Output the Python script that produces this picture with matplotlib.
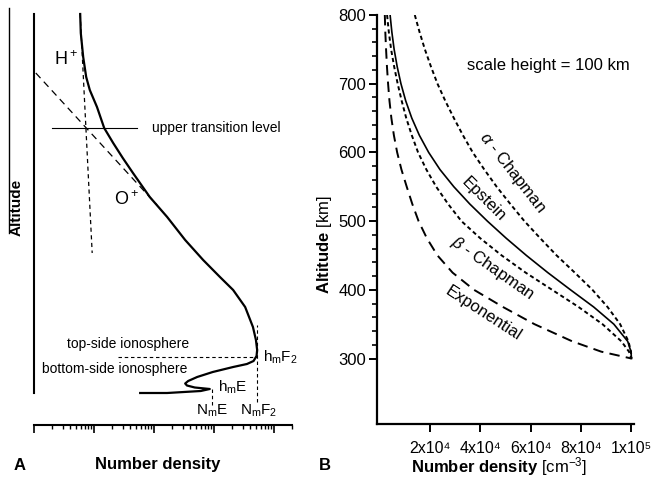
import numpy as np
import matplotlib
matplotlib.use("Agg")
import matplotlib.pyplot as plt
from matplotlib.lines import Line2D

plt.rcParams['font.family'] = ['Liberation Sans', 'DejaVu Sans']
plt.rcParams['mathtext.fontset'] = 'custom'
plt.rcParams['mathtext.rm'] = 'Liberation Sans'
plt.rcParams['mathtext.it'] = 'Liberation Sans:italic'
plt.rcParams['mathtext.bf'] = 'Liberation Sans:bold'
plt.rcParams['lines.scale_dashes'] = False

# ---- panel A : schematic profile (log10 density, relative altitude) ----
prof_log = [0.77, 0.78, 0.82, 0.87, 0.93, 1.05, 1.17, 1.32, 1.48, 1.65, 1.93, 2.22,
            2.52, 2.82, 3.10, 3.32, 3.52, 3.65, 3.70, 3.72, 3.71, 3.66, 3.55, 3.32,
            2.98, 2.72, 2.57, 2.52, 2.55, 2.68, 2.93, 2.78, 2.22, 1.77]
prof_alt = [822, 784, 736, 696, 670, 636, 594, 564, 534, 504, 456, 416,
            370, 330, 296, 270, 236, 196, 170, 150, 138, 128, 122, 116,
            106, 96, 88, 83, 79, 75, 72, 68, 64, 64]
hplus_log = [0.77, 0.97]
hplus_alt = [822, 344]
oplus_log = [0.03, 2.05]
oplus_alt = [704, 440]
utl_log = [0.30, 1.72]
utl_alt = 594
hmF2_alt = 136
NmF2_log = 3.72
NmE_log = 2.97
hmE_alt = 73

# ---- panel B : model profiles, scale height 100 km ----
alt_B = [800, 775, 750, 725, 700, 675, 650, 625, 600, 575, 550, 525, 500,
         475, 450, 425, 400, 375, 350, 325, 310, 300]
ne_exp = [2100, 2300, 2600, 2950, 3400, 3950, 4700, 5700, 7000, 8700, 10800, 13000,
          15500, 18800, 23000, 29000, 37500, 49000, 61500, 76500, 88000, 100000]
ne_beta = [3000, 3700, 4600, 5800, 7200, 8800, 10600, 12800, 15300, 18600, 22500,
           27200, 32500, 40000, 48500, 58000, 68500, 79000, 88500, 96000, 99000, 100000]
ne_eps = [4200, 4900, 5800, 7000, 8500, 10400, 12800, 15800, 19500, 24000, 29500,
          35800, 42800, 50300, 58300, 66800, 75800, 85000, 93000, 98500, 99800, 100000]
ne_alpha = [14000, 15900, 18000, 20400, 23000, 26100, 29500, 33100, 37000, 41600,
            46500, 51900, 57500, 63800, 70300, 77500, 84500, 90500, 95500, 98800,
            99800, 100000]
xticks_B = [2e4, 4e4, 6e4, 8e4, 1e5]
xticklabels_B = ['2x10\u2074', '4x10\u2074', '6x10\u2074', '8x10\u2074', '1x10\u2075']

W, H = 654, 479
fig = plt.figure(figsize=(W / 100, H / 100), dpi=100)

def fx(px):
    return px / W

def fy(py):
    return 1 - py / H

# panel A
axA = fig.add_axes([fx(34), fy(425), fx(292 - 34), (425 - 8) / H])
axA.set_xscale('log')
axA.set_xlim(1, 2.0e4)
axA.set_ylim(0, 834)
for s in ['top', 'right']:
    axA.spines[s].set_visible(False)
axA.spines['left'].set_bounds(64, 822)
axA.spines['left'].set_linewidth(1.5)
axA.spines['bottom'].set_linewidth(1.5)
axA.set_yticks([])
axA.set_xticks([1, 10, 100, 1000, 10000])
axA.tick_params(axis='x', which='major', direction='out', length=6, width=1.2, labelbottom=False)
axA.tick_params(axis='x', which='minor', direction='out', length=3, width=1.0, labelbottom=False)

axA.plot(10 ** np.array(prof_log), prof_alt, color='k', lw=1.6)
axA.plot(10 ** np.array(hplus_log), hplus_alt, color='k', lw=0.9, dashes=(3, 2.5))
axA.plot(10 ** np.array(oplus_log), oplus_alt, color='k', lw=0.9, dashes=(5, 3.5))
axA.plot(10 ** np.array(utl_log), [utl_alt, utl_alt], color='k', lw=0.8)
axA.plot([10 ** 1.40, 10 ** NmF2_log], [hmF2_alt, hmF2_alt], color='k', lw=0.8, dashes=(2.5, 2))
axA.plot([10 ** NmF2_log, 10 ** NmF2_log], [46, 200], color='k', lw=0.8, dashes=(2.5, 2))
axA.plot([10 ** NmE_log, 10 ** NmE_log], [40, hmE_alt], color='k', lw=0.8, dashes=(2.5, 2))

axA.text(10 ** 0.53, 730, r'$\mathrm{H^+}$', fontsize=13, ha='center', va='center')
axA.text(10 ** 1.55, 450, r'$\mathrm{O^+}$', fontsize=13, ha='center', va='center')
axA.text(10 ** 1.97, utl_alt, 'upper transition level', fontsize=10, ha='left', va='center')
axA.text(10 ** 1.56, 162, 'top-side ionosphere', fontsize=10, ha='center', va='center')
axA.text(10 ** 0.13, 112, 'bottom-side ionosphere', fontsize=10, ha='left', va='center')
axA.text(10 ** 3.82, hmF2_alt, r'$\mathrm{h_mF_2}$', fontsize=11, ha='left', va='center')
axA.text(10 ** 3.06, 76, r'$\mathrm{h_mE}$', fontsize=11, ha='left', va='center')
axA.text(10 ** NmE_log, 28, r'$\mathrm{N_mE}$', fontsize=11, ha='center', va='center')
axA.text(10 ** 3.75, 28, r'$\mathrm{N_mF_2}$', fontsize=11, ha='center', va='center')

fig.add_artist(Line2D([fx(9), fx(9)], [fy(8), fy(233)], color='k', lw=1.0))
fig.text(fx(17), fy(207), 'Altitude', rotation=90, fontsize=11, weight='bold',
         ha='center', va='center')
fig.text(fx(20), fy(465), 'A', fontsize=12, weight='bold', ha='center', va='center')
fig.text(fx(158), fy(465), 'Number density', fontsize=12, weight='bold', ha='center', va='center')

# panel B
axB = fig.add_axes([fx(377), fy(424), fx(634 - 377), (424 - 15) / H])
axB.set_xlim(-1000, 101000)
axB.set_ylim(204.7, 800)
for s in ['top', 'right']:
    axB.spines[s].set_visible(False)
axB.spines['left'].set_linewidth(1.6)
axB.spines['bottom'].set_linewidth(1.6)
axB.set_yticks([300, 400, 500, 600, 700, 800])
axB.set_yticks([v for v in range(320, 800, 20) if v % 100 != 0], minor=True)
axB.set_xticks(xticks_B)
axB.set_xticklabels(xticklabels_B)
axB.tick_params(axis='both', which='major', direction='out', length=6, width=1.4,
                labelsize=12, pad=2)
axB.tick_params(axis='x', which='major', pad=6, labelsize=11.5)
axB.tick_params(axis='y', which='minor', direction='out', length=3.5, width=1.2)

axB.plot(ne_exp, alt_B, color='k', lw=1.4, dashes=(7.5, 4.5))
axB.plot(ne_beta, alt_B, color='k', lw=1.4, dashes=(3, 2.2))
axB.plot(ne_eps, alt_B, color='k', lw=1.2)
axB.plot(ne_alpha, alt_B, color='k', lw=1.4, dashes=(3, 2.2))

axB.text(34700, 727, 'scale height = 100 km', fontsize=12, ha='left', va='center')
axB.text(52600, 571, r'$\alpha$ - Chapman', fontsize=12, rotation=-52,
         ha='center', va='center', rotation_mode='anchor')
axB.text(41100, 531, 'Epstein', fontsize=12, rotation=-45,
         ha='center', va='center', rotation_mode='anchor')
axB.text(45000, 432, r'$\beta$ - Chapman', fontsize=12, rotation=-35,
         ha='center', va='center', rotation_mode='anchor')
axB.text(41100, 366, 'Exponential', fontsize=12, rotation=-33,
         ha='center', va='center', rotation_mode='anchor')

fig.text(fx(324), fy(245), r'$\mathbf{Altitude}$ [km]', rotation=90, fontsize=12,
         ha='center', va='center')
fig.text(fx(499), fy(467), r'$\mathbf{Number\ density}$ [cm$^{-3}$]', fontsize=12,
         ha='center', va='center')
fig.text(fx(325), fy(465), 'B', fontsize=12, weight='bold', ha='center', va='center')

fig.savefig('out.png', dpi=100)
